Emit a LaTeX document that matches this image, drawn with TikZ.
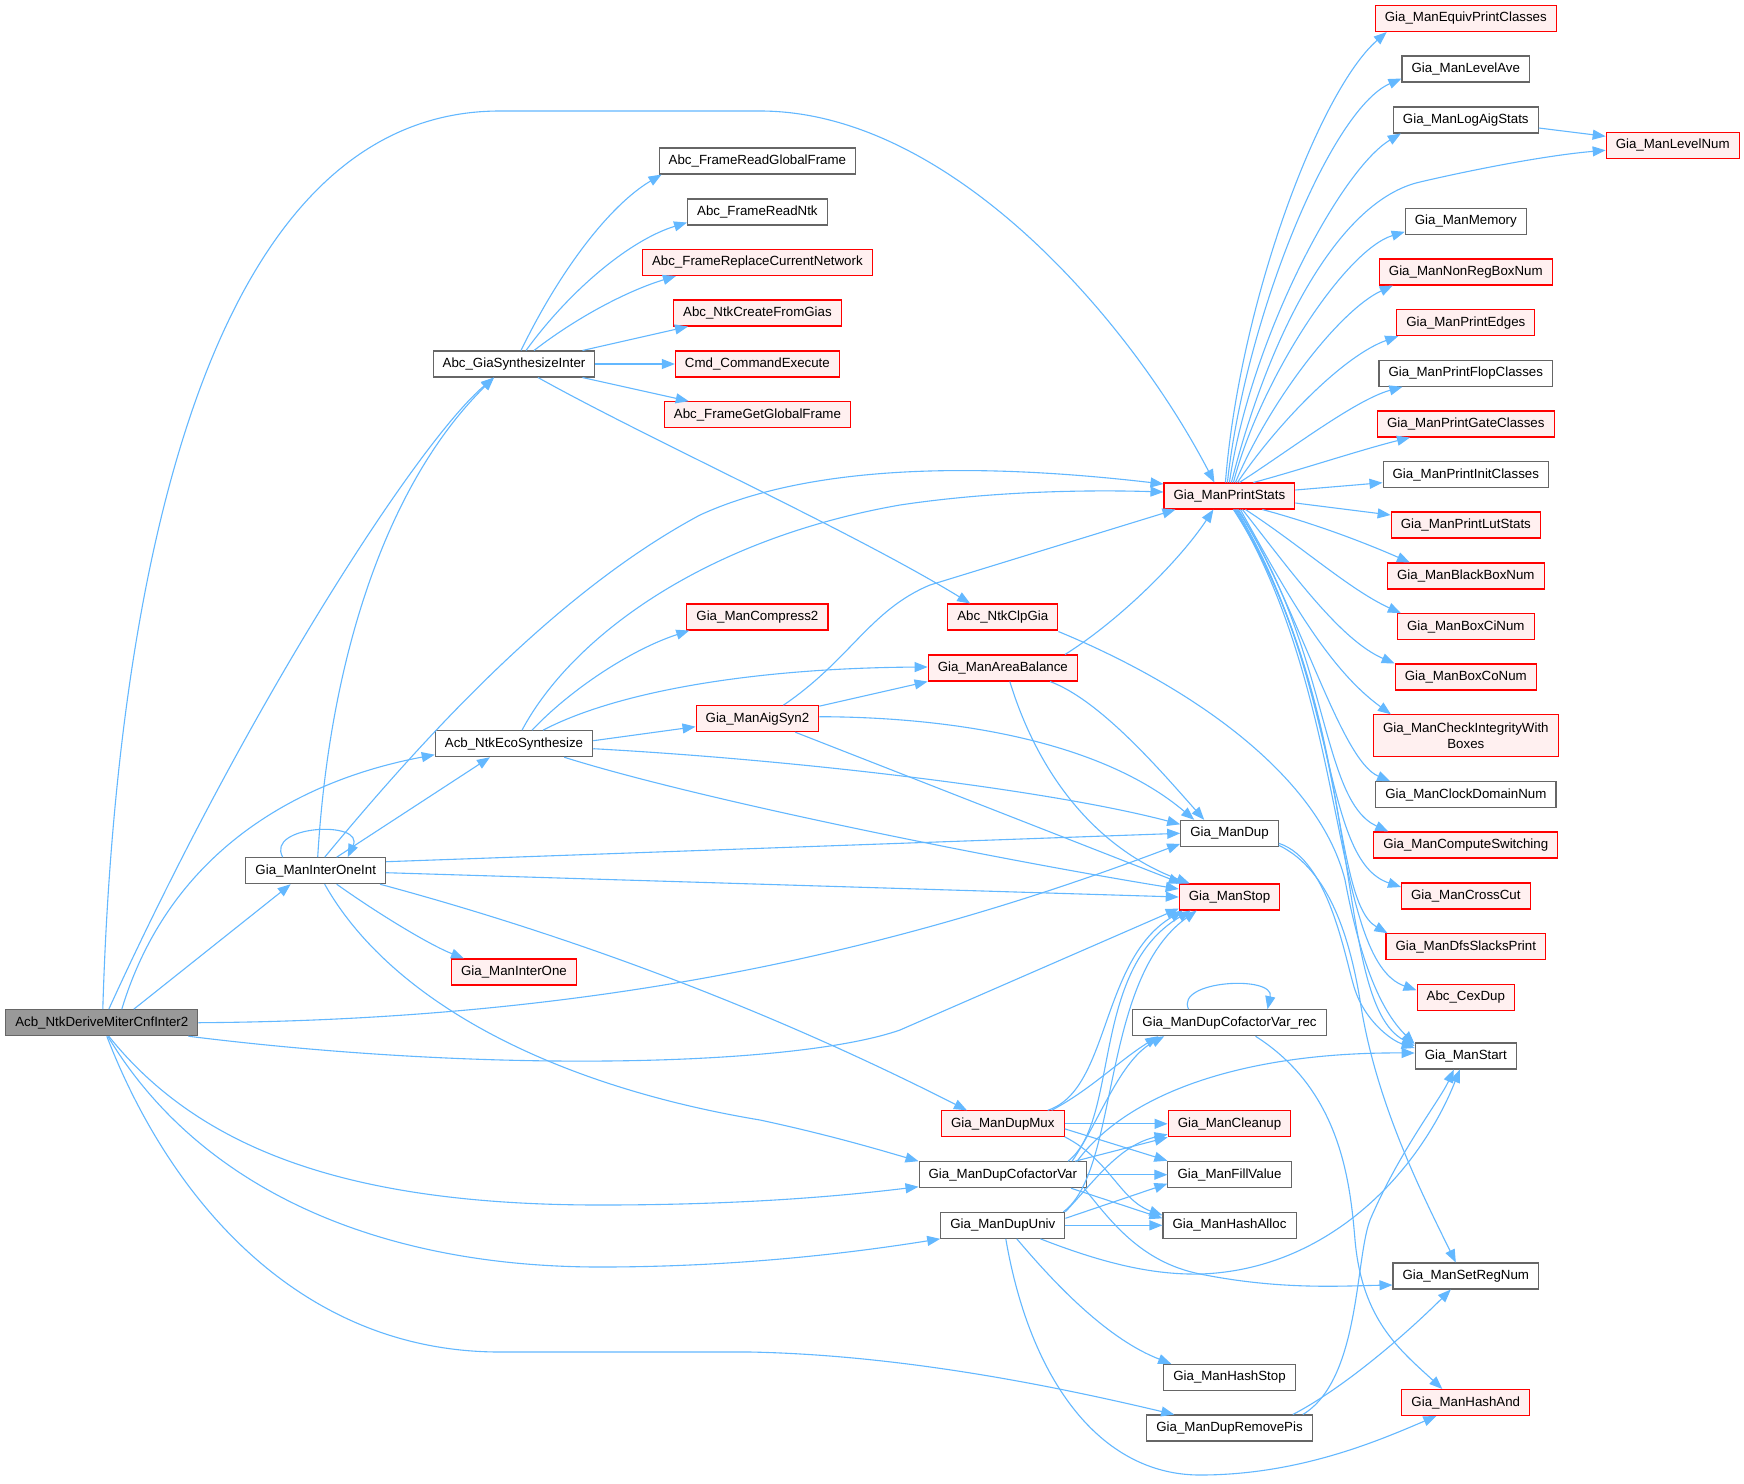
\documentclass[tikz,border=0pt]{standalone}
\usepackage{fontspec}
\setmainfont{Liberation Sans}
\usepackage{tikz}
\usetikzlibrary{arrows.meta,calc}
\definecolor{colorCall}{HTML}{63B8FF}
\definecolor{colorRed}{HTML}{FF0000}
\definecolor{colorRedFill}{HTML}{FFF0F0}
\definecolor{colorGray}{HTML}{666666}
\definecolor{colorRoot}{HTML}{999999}
\tikzset{
   every path/.style={>={Triangle[length=13pt,width=10pt]}},
   call/.style={->,color=colorCall,line width=1.1pt},
   fn/.style={rectangle,draw=colorGray,fill=white,line width=1.05pt,inner xsep=9.6pt,inner ysep=0pt,minimum height=26pt,font=\fontsize{13.3}{16}\selectfont},
   fnred/.style={fn,draw=colorRed,fill=colorRedFill},
   fnroot/.style={fn,fill=colorRoot},
}

\begin{document}
\begin{tikzpicture}[x=1pt,y=-1pt]
    \useasboundingbox[fill=white] (0,0) rectangle (1744,1483);

    % caller
    \node[fnroot] (root) at (101.8,1022.7) {Acb\_NtkDeriveMiterCnfInter2};

    \node[fn] (interint) at (315.7,870.7) {Gia\_ManInterOneInt};

    \node[fn] (synth) at (514,364) {Abc\_GiaSynthesizeInter};
    \node[fn] (eco) at (514,743.7) {Acb\_NtkEcoSynthesize};
    \node[fnred] (interone) at (514,972) {Gia\_ManInterOne};

    \node[fn] (readgf) at (757.4,161) {Abc\_FrameReadGlobalFrame};
    \node[fn] (readntk) at (757.4,212) {Abc\_FrameReadNtk};
    \node[fnred] (replace) at (757.4,262.5) {Abc\_FrameReplaceCurrentNetwork};
    \node[fnred] (createfg) at (757.4,313) {Abc\_NtkCreateFromGias};
    \node[fnred] (cmdexec) at (757.4,364) {Cmd\_CommandExecute};
    \node[fnred] (getgf) at (757.4,414.7) {Abc\_FrameGetGlobalFrame};
    \node[fnred] (compress) at (757.4,617) {Gia\_ManCompress2};
    \node[fnred] (aigsyn) at (757.4,718.7) {Gia\_ManAigSyn2};

    \node[fnred] (clpgia) at (1002.8,617) {Abc\_NtkClpGia};
    \node[fnred] (areabal) at (1002.8,668) {Gia\_ManAreaBalance};
    \node[fnred] (dupmux) at (1002.8,1123.8) {Gia\_ManDupMux};
    \node[fn] (dupcof) at (1002.8,1174.7) {Gia\_ManDupCofactorVar};
    \node[fn] (dupuniv) at (1002.8,1225.3) {Gia\_ManDupUniv};

    \node[fnred] (printstats) at (1229.4,496) {Gia\_ManPrintStats};
    \node[fn] (mandup) at (1229.5,833.3) {Gia\_ManDup};
    \node[fnred] (manstop) at (1229.5,897) {Gia\_ManStop};
    \node[fn] (cofrec) at (1229.5,1022.7) {Gia\_ManDupCofactorVar\_rec};
    \node[fnred] (cleanup) at (1229.5,1123.8) {Gia\_ManCleanup};
    \node[fn] (fillval) at (1229.5,1174.7) {Gia\_ManFillValue};
    \node[fn] (hashalloc) at (1229.5,1225.3) {Gia\_ManHashAlloc};
    \node[fn] (hashstop) at (1229.5,1377.3) {Gia\_ManHashStop};
    \node[fn] (removepis) at (1229.5,1428) {Gia\_ManDupRemovePis};

    % callees of Gia_ManPrintStats
    \node[fnred] (equiv) at (1465.8,18.5) {Gia\_ManEquivPrintClasses};
    \node[fn] (levelave) at (1465.8,69) {Gia\_ManLevelAve};
    \node[fn] (logaig) at (1465.8,120) {Gia\_ManLogAigStats};
    \node[fnred] (levelnum) at (1672.7,145.3) {Gia\_ManLevelNum};
    \node[fn] (memory) at (1465.8,221.3) {Gia\_ManMemory};
    \node[fnred] (nonreg) at (1465.8,272) {Gia\_ManNonRegBoxNum};
    \node[fnred] (printedges) at (1465.8,322.7) {Gia\_ManPrintEdges};
    \node[fn] (flop) at (1465.8,373.3) {Gia\_ManPrintFlopClasses};
    \node[fnred] (gate) at (1465.8,424) {Gia\_ManPrintGateClasses};
    \node[fn] (init) at (1465.8,474.7) {Gia\_ManPrintInitClasses};
    \node[fnred] (lut) at (1465.8,525) {Gia\_ManPrintLutStats};
    \node[fnred] (blackbox) at (1465.8,576) {Gia\_ManBlackBoxNum};
    \node[fnred] (boxci) at (1465.8,626.7) {Gia\_ManBoxCiNum};
    \node[fnred] (boxco) at (1465.8,677) {Gia\_ManBoxCoNum};
    \node[fnred,align=center,minimum height=42pt] (checkint) at (1465.8,735.8) {Gia\_ManCheckIntegrityWith\\Boxes};
    \node[fn] (clockdom) at (1465.8,794.7) {Gia\_ManClockDomainNum};
    \node[fnred] (compsw) at (1465.8,845) {Gia\_ManComputeSwitching};
    \node[fnred] (crosscut) at (1465.8,896) {Gia\_ManCrossCut};
    \node[fnred] (dfsslack) at (1465.8,946.7) {Gia\_ManDfsSlacksPrint};
    \node[fnred] (cexdup) at (1465.8,997.2) {Abc\_CexDup};
    \node[fn] (manstart) at (1465.8,1056) {Gia\_ManStart};
    \node[fn] (setreg) at (1465.8,1276) {Gia\_ManSetRegNum};
    \node[fnred] (hashand) at (1465.8,1402.5) {Gia\_ManHashAnd};

    % root calls
    \draw[call] ([xshift=1pt]root.north) .. controls (115,600) and (200,111) .. (500,111) -- (760,111) .. controls (950,111) and (1130,320) .. ([xshift=-15pt]printstats.north);
    \draw[call] ([xshift=7pt]root.north) .. controls (250,700) and (420,440) .. ([xshift=-20pt]synth.south);
    \draw[call] ([xshift=20pt]root.north) .. controls (170,850) and (300,780) .. ([yshift=-11pt]eco.west);
    \draw[call] ([xshift=32pt]root.north) -- ([xshift=-25pt]interint.south);
    \draw[call] (root.east) .. controls (600,1020) and (900,950) .. ([yshift=3pt]mandup.south west);
    \draw[call] ([xshift=-10pt]root.south east) .. controls (500,1075) and (800,1065) .. (900,1030) -- ([yshift=2pt]manstop.south west);
    \draw[call] ([xshift=7pt]root.south) .. controls (200,1150) and (350,1205) .. (600,1205) .. controls (750,1205) and (850,1195) .. ([yshift=-12pt]dupcof.west);
    \draw[call] ([xshift=6pt]root.south) .. controls (200,1190) and (380,1267) .. (600,1267) .. controls (750,1267) and (870,1250) .. (dupuniv.south west);
    \draw[call] ([xshift=5pt]root.south) .. controls (170,1200) and (300,1352) .. (500,1352) -- (750,1352) .. controls (900,1355) and (1050,1385) .. ([xshift=28pt]removepis.north west);

    % Gia_ManInterOneInt
    \draw[call] ([xshift=-33pt]interint.north) .. controls (265,825) and (365,820) .. ([xshift=32pt]interint.north);
    \draw[call] ([xshift=2pt]interint.north) .. controls (330,650) and (390,480) .. ([xshift=-20pt]synth.south);
    \draw[call] ([xshift=21pt]interint.north) -- ([xshift=-24pt]eco.south);
    \draw[call] ([xshift=9pt]interint.north) .. controls (430,730) and (560,590) .. (700,515) .. controls (820,460) and (1000,465) .. ([yshift=12pt]printstats.west);
    \draw[call] ([yshift=9pt]interint.east) -- (mandup.west);
    \draw[call] ([yshift=-2pt]interint.east) -- (manstop.west);
    \draw[call] ([xshift=21pt]interint.south) .. controls (380,915) and (430,945) .. ([xshift=13pt]interone.north west);
    \draw[call] ([xshift=-6pt]interint.south east) .. controls (550,930) and (750,1000) .. ([xshift=26pt]dupmux.north west);
    \draw[call] ([xshift=9pt]interint.south) .. controls (390,1000) and (550,1085) .. (760,1120) .. controls (830,1135) and (880,1150) .. (dupcof.north west);

    % Abc_GiaSynthesizeInter
    \draw[call] ([xshift=7pt]synth.north) .. controls (560,270) and (610,205) .. ([xshift=3pt]readgf.south west);
    \draw[call] ([xshift=12pt]synth.north) .. controls (570,290) and (630,240) .. ([yshift=3pt]readntk.south west);
    \draw[call] ([xshift=20pt]synth.north) .. controls (580,315) and (630,290) .. ([xshift=34pt]replace.south west);
    \draw[call] ([xshift=-13pt]synth.north east) -- ([xshift=15pt]createfg.south west);
    \draw[call] (synth.east) -- (cmdexec.west);
    \draw[call] ([xshift=-13pt]synth.south east) -- ([xshift=25pt]getgf.north west);
    \draw[call] ([xshift=24pt]synth.south) .. controls (650,440) and (850,530) .. ([xshift=23pt]clpgia.north west);

    % Acb_NtkEcoSynthesize
    \draw[call] ([xshift=8pt]eco.north) .. controls (570,640) and (700,540) .. (900,505) .. controls (1000,490) and (1100,490) .. ([yshift=4pt]printstats.west);
    \draw[call] ([xshift=18pt]eco.north) .. controls (570,690) and (630,650) .. ([xshift=3pt]compress.south west);
    \draw[call] ([xshift=29pt]eco.north) .. controls (620,690) and (760,668) .. ([yshift=1pt]areabal.west);
    \draw[call] ([yshift=3pt]eco.east) -- ([yshift=-8pt]aigsyn.west);
    \draw[call] ([yshift=-5pt]eco.east) .. controls (800,760) and (1050,790) .. ([yshift=9pt]mandup.west);
    \draw[call] ([xshift=-29pt]eco.south east) .. controls (700,800) and (1000,860) .. ([yshift=8pt]manstop.west);

    % Gia_ManAigSyn2
    \draw[call] ([xshift=26pt]aigsyn.north) .. controls (850,660) and (870,610) .. (930,585) -- ([xshift=12pt]printstats.south west);
    \draw[call] ([yshift=-1pt]aigsyn.north east) -- (areabal.south west);
    \draw[call] ([yshift=2pt]aigsyn.east) .. controls (950,717) and (1100,740) .. ([xshift=14pt]mandup.north west);
    \draw[call] ([xshift=-24pt]aigsyn.south east) -- ([xshift=3pt]manstop.north west);

    % Gia_ManAreaBalance
    \draw[call] ([xshift=-13pt]areabal.north east) .. controls (1120,620) and (1180,560) .. ([xshift=-16pt]printstats.south);
    \draw[call] ([xshift=-28pt]areabal.south east) .. controls (1100,700) and (1160,770) .. ([xshift=24pt]mandup.north west);
    \draw[call] ([xshift=7pt]areabal.south) .. controls (1040,780) and (1100,850) .. ([xshift=11pt]manstop.north west);

    % Abc_NtkClpGia
    \draw[call] ([yshift=-1pt]clpgia.south east) .. controls (1200,690) and (1320,780) .. (1345,880) .. controls (1360,960) and (1380,1010) .. ([yshift=12pt]manstart.west);

    % Gia_ManPrintStats
    \draw[call] ([xshift=-4pt]printstats.north) .. controls (1240,300) and (1320,90) .. ([xshift=12pt]equiv.south west);
    \draw[call] ([xshift=-2pt]printstats.north) .. controls (1245,320) and (1330,110) .. ([yshift=4pt]levelave.south west);
    \draw[call] (printstats.north) .. controls (1250,340) and (1340,170) .. ([xshift=8pt]logaig.south west);
    \draw[call] ([xshift=2pt]printstats.north) .. controls (1270,330) and (1340,200) .. (1420,182) .. controls (1480,168) and (1550,155) .. ([yshift=-5pt]levelnum.west);
    \draw[call] ([xshift=4pt]printstats.north) .. controls (1260,380) and (1345,250) .. ([yshift=3pt]memory.south west);
    \draw[call] ([xshift=6pt]printstats.north) .. controls (1270,400) and (1340,310) .. ([xshift=14pt]nonreg.south west);
    \draw[call] ([xshift=8pt]printstats.north) .. controls (1280,420) and (1345,355) .. ([xshift=2pt]printedges.south west);
    \draw[call] ([xshift=10pt]printstats.north) .. controls (1290,450) and (1355,400) .. ([xshift=24pt]flop.south west);
    \draw[call] ([xshift=24pt]printstats.north) .. controls (1300,470) and (1360,450) .. ([xshift=33pt]gate.south west);
    \draw[call] ([yshift=6pt]printstats.east) -- ([yshift=-8pt]init.west);
    \draw[call] ([yshift=-7pt]printstats.east) -- ([yshift=10pt]lut.west);
    \draw[call] ([xshift=-33pt]printstats.south east) .. controls (1320,525) and (1370,545) .. ([xshift=23pt]blackbox.north west);
    \draw[call] ([xshift=16pt]printstats.south) .. controls (1300,545) and (1350,590) .. ([xshift=4pt]boxci.north west);
    \draw[call] ([xshift=13pt]printstats.south) .. controls (1290,570) and (1340,640) .. (boxco.north west);
    \draw[call] ([xshift=11pt]printstats.south) .. controls (1290,600) and (1330,670) .. ([xshift=18pt]checkint.north west);
    \draw[call] ([xshift=9pt]printstats.south) .. controls (1300,610) and (1340,760) .. ([xshift=15pt]clockdom.north west);
    \draw[call] ([xshift=8pt]printstats.south) .. controls (1330,650) and (1320,800) .. ([xshift=15pt]compsw.north west);
    \draw[call] ([xshift=7pt]printstats.south) .. controls (1340,680) and (1320,860) .. ([yshift=9pt]crosscut.west);
    \draw[call] ([xshift=6pt]printstats.south) .. controls (1350,700) and (1330,900) .. ([xshift=2pt]dfsslack.north west);
    \draw[call] ([xshift=5pt]printstats.south) .. controls (1350,700) and (1330,960) .. ([yshift=7pt]cexdup.west);
    \draw[call] ([xshift=4pt]printstats.south) .. controls (1370,720) and (1330,1000) .. ([yshift=10pt]manstart.west);
    \draw[call] ([yshift=-8pt]logaig.east) -- ([yshift=9pt]levelnum.west);

    % Gia_ManDup
    \draw[call] ([yshift=-10pt]mandup.east) .. controls (1330,860) and (1345,960) .. (1355,990) .. controls (1365,1020) and (1390,1040) .. ([yshift=8pt]manstart.west);
    \draw[call] ([yshift=-12pt]mandup.east) .. controls (1330,870) and (1350,940) .. (1360,1000) .. controls (1375,1100) and (1420,1190) .. ([xshift=-10pt]setreg.north);

    % Gia_ManDupCofactorVar_rec
    \draw[call] ([xshift=-41pt]cofrec.north) .. controls (1175,980) and (1275,975) .. ([xshift=38pt]cofrec.north);
    \draw[call] ([xshift=26pt]cofrec.south) .. controls (1340,1090) and (1350,1180) .. (1355,1240) .. controls (1362,1320) and (1400,1350) .. ([xshift=41pt]hashand.north west);

    % Gia_ManDupMux
    \draw[call] ([xshift=-17pt]dupmux.north east) .. controls (1110,1090) and (1100,960) .. ([xshift=4pt]manstop.south west);
    \draw[call] ([xshift=-13pt]dupmux.north east) .. controls (1090,1090) and (1120,1060) .. ([xshift=26pt]cofrec.south west);
    \draw[call] (dupmux.east) -- (cleanup.west);
    \draw[call] ([yshift=-5pt]dupmux.east) -- ([yshift=14pt]fillval.west);
    \draw[call] ([yshift=-13pt]dupmux.east) .. controls (1110,1160) and (1120,1200) .. ([yshift=10pt]hashalloc.west);

    % Gia_ManDupCofactorVar
    \draw[call] ([xshift=-19pt]dupcof.north east) .. controls (1120,1120) and (1090,970) .. ([xshift=12pt]manstop.south west);
    \draw[call] ([xshift=-15pt]dupcof.north east) .. controls (1100,1120) and (1120,1060) .. ([xshift=32pt]cofrec.south west);
    \draw[call] ([xshift=-10pt]dupcof.north east) .. controls (1130,1090) and (1250,1052) .. ([yshift=3pt]manstart.west);
    \draw[call] ([xshift=-12pt]dupcof.north east) -- (cleanup.south west);
    \draw[call] (dupcof.east) -- (fillval.west);
    \draw[call] ([xshift=-16pt]dupcof.south east) -- ([yshift=7pt]hashalloc.west);
    \draw[call] ([xshift=-3pt]dupcof.south east) .. controls (1110,1220) and (1140,1262) .. (1200,1274) .. controls (1280,1290) and (1340,1286) .. ([yshift=-9pt]setreg.west);

    % Gia_ManDupUniv
    \draw[call] ([xshift=-2pt]dupuniv.north east) .. controls (1120,1170) and (1100,980) .. ([xshift=18pt]manstop.south west);
    \draw[call] (dupuniv.north east) .. controls (1095,1180) and (1120,1145) .. ([yshift=3pt]cleanup.south west);
    \draw[call] ([yshift=7pt]dupuniv.east) -- ([yshift=-9pt]fillval.west);
    \draw[call] (dupuniv.east) -- (hashalloc.west);
    \draw[call] ([xshift=-25pt]dupuniv.south east) .. controls (1100,1262) and (1150,1275) .. (1200,1274) .. controls (1330,1270) and (1420,1170) .. ([xshift=-6pt]manstart.south);
    \draw[call] ([xshift=14pt]dupuniv.south) .. controls (1060,1290) and (1110,1340) .. ([xshift=8pt]hashstop.north west);
    \draw[call] ([xshift=3pt]dupuniv.south) .. controls (1030,1380) and (1100,1475) .. (1200,1475) .. controls (1300,1475) and (1380,1440) .. ([xshift=35pt]hashand.south west);

    % Gia_ManDupRemovePis
    \draw[call] ([xshift=-10pt]removepis.north east) .. controls (1360,1380) and (1355,1260) .. (1370,1220) .. controls (1400,1150) and (1440,1100) .. ([xshift=-12pt]manstart.south);
    \draw[call] ([xshift=-20pt]removepis.north east) .. controls (1340,1390) and (1400,1340) .. ([xshift=-15pt]setreg.south);
\end{tikzpicture}
\end{document}
